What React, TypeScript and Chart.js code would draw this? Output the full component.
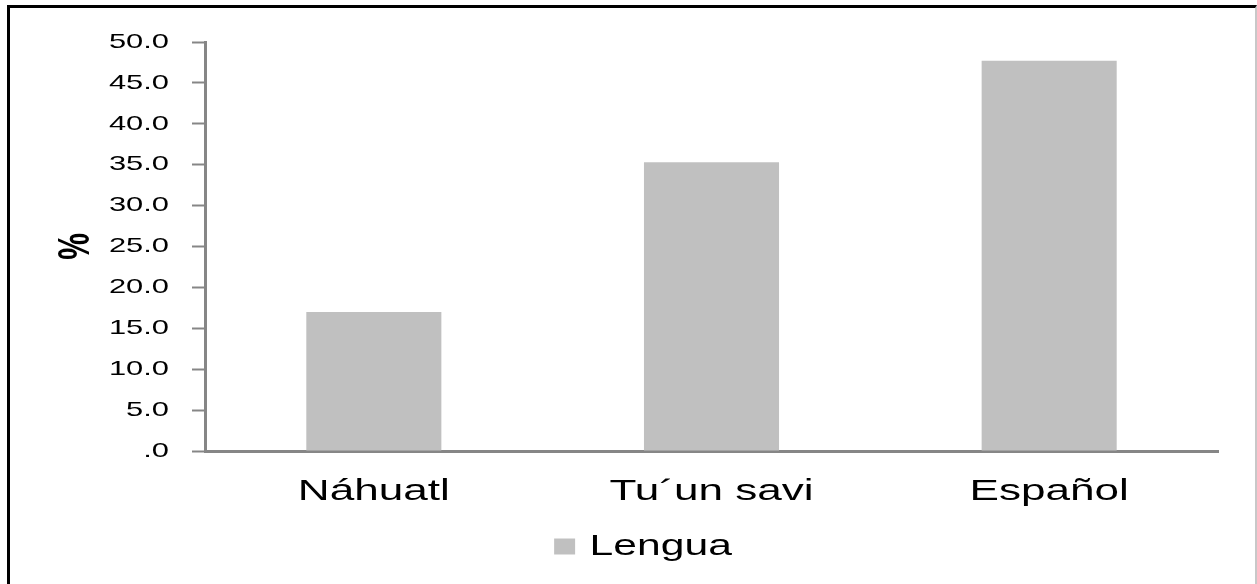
import React, { useEffect, useRef } from 'react';
import { Chart, registerables } from 'chart.js';

Chart.register(...registerables);

const categories = ['Náhuatl', 'Tu´un savi', 'Español'];
const values = [17.0, 35.3, 47.7];
const seriesLabel = 'Lengua';
const yTitle = '%';
const yMin = 0;
const yMax = 50;
const yStep = 5;

const FONT_A = '"Liberation Sans", Arial, sans-serif';
// the reference text is rendered horizontally stretched
const STRETCH_X = 1.47;

export default function App() {
  const ref = useRef<HTMLCanvasElement>(null);

  useEffect(() => {
    const canvas = ref.current!;
    const ctx = canvas.getContext('2d') as any;
    if (!ctx.__patched) {
      const of = ctx.fillText.bind(ctx);
      const om = ctx.measureText.bind(ctx);
      ctx.fillText = (t: string, x: number, y: number) => {
        const m = ctx.getTransform();
        const p = m.transformPoint(new DOMPoint(x, y));
        ctx.save();
        const nm = new DOMMatrix()
          .translate(p.x, p.y)
          .scale(STRETCH_X, 1)
          .translate(-p.x, -p.y)
          .multiply(m);
        ctx.setTransform(nm);
        of(t, x, y);
        ctx.restore();
      };
      ctx.measureText = (t: string) => {
        const r = om(t);
        return {
          width: r.width * STRETCH_X,
          actualBoundingBoxAscent: r.actualBoundingBoxAscent,
          actualBoundingBoxDescent: r.actualBoundingBoxDescent,
          actualBoundingBoxLeft: r.actualBoundingBoxLeft * STRETCH_X,
          actualBoundingBoxRight: r.actualBoundingBoxRight * STRETCH_X,
          fontBoundingBoxAscent: r.fontBoundingBoxAscent,
          fontBoundingBoxDescent: r.fontBoundingBoxDescent,
        };
      };
      ctx.__patched = true;
    }

    const chart = new Chart(canvas, {
      type: 'bar',
      data: {
        labels: categories,
        datasets: [
          {
            label: seriesLabel,
            data: values,
            backgroundColor: '#c0c0c0',
            borderColor: '#c0c0c0',
            borderWidth: 0,
            barPercentage: 0.4,
            categoryPercentage: 1,
          },
        ],
      },
      options: {
        responsive: false,
        animation: false,
        devicePixelRatio: 1,
        layout: { padding: { left: 68, right: 39, top: 42, bottom: 13 } },
        plugins: {
          legend: {
            position: 'bottom',
            labels: {
              font: { family: FONT_A, size: 29 },
              color: '#000',
              boxWidth: 21,
              boxHeight: 16,
              padding: 10,
            },
          },
          tooltip: { enabled: false },
        },
        scales: {
          x: {
            grid: { display: false },
            border: { display: true, color: '#868686', width: 3 },
            ticks: {
              font: { family: FONT_A, size: 30 },
              color: '#000',
              padding: 15,
              maxRotation: 0,
              autoSkip: false,
            },
            afterFit: (s: any) => {
              s.height = 71;
            },
          },
          y: {
            min: yMin,
            max: yMax,
            ticks: {
              stepSize: yStep,
              font: { family: FONT_A, size: 21 },
              color: '#000',
              padding: 23,
              callback: (v: any) => (Number(v) === 0 ? '.0' : Number(v).toFixed(1)),
            },
            grid: {
              drawOnChartArea: false,
              drawTicks: true,
              tickLength: 13,
              tickColor: '#868686',
              tickWidth: 2,
            },
            border: { color: '#868686', width: 3 },
            title: {
              display: true,
              text: yTitle,
              font: { family: FONT_A, size: 30, weight: 'bold', lineHeight: 1 },
              color: '#000',
              padding: { top: -6, bottom: 0 },
            },
            afterFit: (s: any) => {
              s.width = 137;
            },
          },
        },
      } as any,
    });
    return () => chart.destroy();
  }, []);

  return (
    <div
      style={{
        position: 'fixed',
        left: 0,
        top: 0,
        width: 1257,
        height: 584,
        background: '#fff',
        overflow: 'hidden',
      }}
    >
      <canvas
        ref={ref}
        width={1257}
        height={584}
        style={{ display: 'block', width: 1257, height: 584 }}
      />
      <div
        style={{
          position: 'absolute',
          left: 7,
          top: 5,
          width: 1250,
          height: 600,
          boxSizing: 'border-box',
          borderLeft: '3px solid #000',
          borderTop: '3px solid #000',
          borderRight: '2px solid #c8c8c8',
          pointerEvents: 'none',
        }}
      />
    </div>
  );
}
